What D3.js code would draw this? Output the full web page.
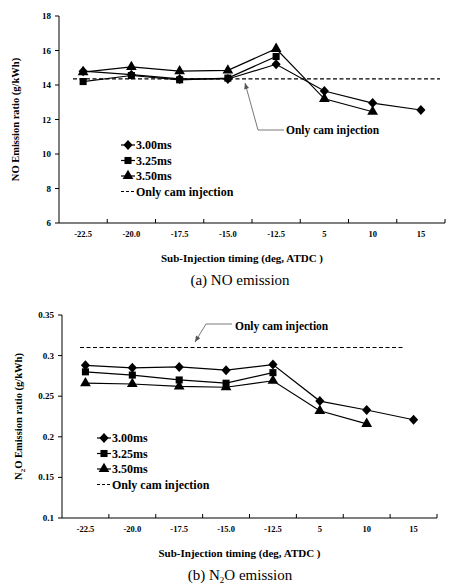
<!DOCTYPE html>
<html><head><meta charset="utf-8">
<script src="https://cdn.jsdelivr.net/npm/d3@7"></script>
<style>body{margin:0;background:#fff}svg{font-family:"Liberation Serif",serif}</style>
</head><body><svg id="c" width="452" height="584"></svg>
<script>
// categories shared by both panels
var timings = ["-22.5", "-20.0", "-17.5", "-15.0", "-12.5", "5", "10", "15"];
var series = ["3.00ms", "3.25ms", "3.50ms"];

// NO emission (g/kWh)
var no300 = [14.8, 14.6, 14.35, 14.35, 15.2, 13.65, 12.95, 12.55];
var no325 = [14.2, 14.55, 14.3, 14.4, 15.65];
var no350 = [14.75, 15.05, 14.8, 14.85, 16.1, 13.2, 12.45];
var noCam = 14.35;
var noTicks = [6, 8, 10, 12, 14, 16, 18];

// N2O emission (g/kWh)
var n2o300 = [0.288, 0.285, 0.286, 0.282, 0.289, 0.244, 0.233, 0.221];
var n2o325 = [0.280, 0.276, 0.270, 0.266, 0.279];
var n2o350 = [0.266, 0.265, 0.262, 0.261, 0.269, 0.232, 0.216];
var n2oCam = 0.31;
var n2oTicks = [0.1, 0.15, 0.2, 0.25, 0.3, 0.35];

var svg = d3.select("#c");
var shapes = [d3.symbolDiamond, d3.symbolSquare, d3.symbolTriangle];
var sizes = [40, 50, 50];
var stretch = [" scale(1.35,0.85)", "", ""];

function panel(cfg) {
  var g = svg.append("g");
  var x = d3.scaleBand().domain(timings).range([cfg.x0, cfg.x1]);
  var y = d3.scaleLinear().domain(cfg.domain).range([cfg.y1, cfg.y0]);

  // axes
  g.append("line").attr("x1", cfg.x0).attr("x2", cfg.x0).attr("y1", cfg.y0).attr("y2", cfg.y1).attr("stroke", "#000");
  g.append("line").attr("x1", cfg.x0).attr("x2", cfg.x1).attr("y1", cfg.y1).attr("y2", cfg.y1).attr("stroke", "#000");
  cfg.ticks.forEach(function (t) {
    g.append("line").attr("x1", cfg.x0 - 4).attr("x2", cfg.x0).attr("y1", y(t)).attr("y2", y(t)).attr("stroke", "#000");
    g.append("text").attr("x", cfg.x0 - 8).attr("y", y(t) + 3).attr("text-anchor", "end")
      .attr("font-size", 9).attr("font-weight", "bold").text(cfg.fmt(t));
  });
  timings.forEach(function (t, i) {
    if (i > 0) g.append("line").attr("x1", x(t)).attr("x2", x(t)).attr("y1", cfg.y1).attr("y2", cfg.y1 - 4).attr("stroke", "#000");
    g.append("text").attr("x", x(t) + x.bandwidth() / 2).attr("y", cfg.y1 + 14).attr("text-anchor", "middle")
      .attr("font-size", 8.5).attr("font-weight", "bold").text(t);
  });
  g.append("line").attr("x1", cfg.x1).attr("x2", cfg.x1).attr("y1", cfg.y1).attr("y2", cfg.y1 - 4).attr("stroke", "#000");

  // reference line
  g.append("line").attr("x1", cfg.camX[0]).attr("x2", cfg.camX[1]).attr("y1", y(cfg.cam)).attr("y2", y(cfg.cam))
    .attr("stroke", "#000").attr("stroke-dasharray", "4,2.5").attr("stroke-width", 1.2);

  var line = d3.line().x(function (d, i) { return x(timings[i]) + x.bandwidth() / 2; }).y(function (d) { return y(d); });
  cfg.data.forEach(function (vals, s) {
    g.append("path").attr("d", line(vals)).attr("fill", "none").attr("stroke", "#000").attr("stroke-width", 1.2);
    vals.forEach(function (v, i) {
      g.append("path").attr("d", d3.symbol().type(shapes[s]).size(sizes[s])())
        .attr("transform", "translate(" + (x(timings[i]) + x.bandwidth() / 2) + "," + y(v) + ")" + stretch[s]);
    });
  });

  // annotation
  var a = cfg.ann;
  g.append("polyline").attr("points", a.pts.map(function (p) { return p.join(","); }).join(" "))
    .attr("fill", "none").attr("stroke", "#555").attr("stroke-width", 0.8);
  var p0 = a.pts[a.pts.length - 2], p1 = a.pts[a.pts.length - 1];
  var ang = Math.atan2(p1[1] - p0[1], p1[0] - p0[0]) * 180 / Math.PI;
  g.append("path").attr("d", "M0,0L-6,-2.5L-6,2.5Z").attr("fill", "#555")
    .attr("transform", "translate(" + p1[0] + "," + p1[1] + ") rotate(" + ang + ")");
  g.append("text").attr("x", a.tx).attr("y", a.ty).attr("font-size", 11.5).attr("font-weight", "bold").text("Only cam injection");

  // legend
  var L = cfg.leg;
  series.concat(["Only cam injection"]).forEach(function (name, s) {
    var yy = L.y + s * 15.5;
    if (s < 3) {
      g.append("line").attr("x1", L.x).attr("x2", L.x + 14).attr("y1", yy).attr("y2", yy).attr("stroke", "#000").attr("stroke-width", 1.2);
      g.append("path").attr("d", d3.symbol().type(shapes[s]).size(sizes[s])()).attr("transform", "translate(" + (L.x + 7) + "," + yy + ")" + stretch[s]);
    } else {
      g.append("line").attr("x1", L.x).attr("x2", L.x + 14).attr("y1", yy).attr("y2", yy).attr("stroke", "#000").attr("stroke-dasharray", "3,2");
    }
    g.append("text").attr("x", L.x + 15).attr("y", yy + 4).attr("font-size", 12).attr("font-weight", "bold").text(name);
  });

  // labels
  g.append("text").attr("x", (cfg.x0 + cfg.x1) / 2 - 10).attr("y", cfg.y1 + 39).attr("text-anchor", "middle")
    .attr("font-size", 11).attr("font-weight", "bold").text("Sub-Injection timing (deg, ATDC )");
  var yl = g.append("text").attr("transform", "translate(" + (cfg.x0 - 40) + "," + ((cfg.y0 + cfg.y1) / 2) + ") rotate(-90)")
    .attr("text-anchor", "middle").attr("font-size", 10.5).attr("font-weight", "bold");
  cfg.ylab(yl);
  var tl = g.append("text").attr("x", 240).attr("y", cfg.y1 + 62).attr("text-anchor", "middle").attr("font-size", 15);
  cfg.title(tl);
}

panel({
  x0: 59, x1: 445, y0: 16, y1: 223, domain: [6, 18], ticks: noTicks, fmt: d3.format("d"),
  data: [no300, no325, no350], cam: noCam, camX: [73, 440],
  ann: { pts: [[284, 130], [258, 130], [245, 83]], tx: 286, ty: 134 },
  leg: { x: 121, y: 145 },
  ylab: function (t) { t.text("NO Emission ratio (g/kWh)"); },
  title: function (t) { t.text("(a)  NO  emission"); }
});

panel({
  x0: 62, x1: 437, y0: 315, y1: 518, domain: [0.1, 0.35], ticks: n2oTicks, fmt: function (v) { return String(+v.toFixed(2)); },
  data: [n2o300, n2o325, n2o350], cam: n2oCam, camX: [80, 405],
  ann: { pts: [[232, 324], [206, 324], [195, 342]], tx: 235, ty: 330 },
  leg: { x: 97, y: 438 },
  ylab: function (t) { t.append("tspan").text("N"); t.append("tspan").attr("font-size", 7).attr("dy", 3).text("2");
    t.append("tspan").attr("dy", -3).text("O Emission ratio (g/kWh)"); },
  title: function (t) { t.append("tspan").text("(b)  N"); t.append("tspan").attr("font-size", 9).attr("dy", 3).text("2");
    t.append("tspan").attr("dy", -3).text("O  emission"); }
});
</script></body></html>
